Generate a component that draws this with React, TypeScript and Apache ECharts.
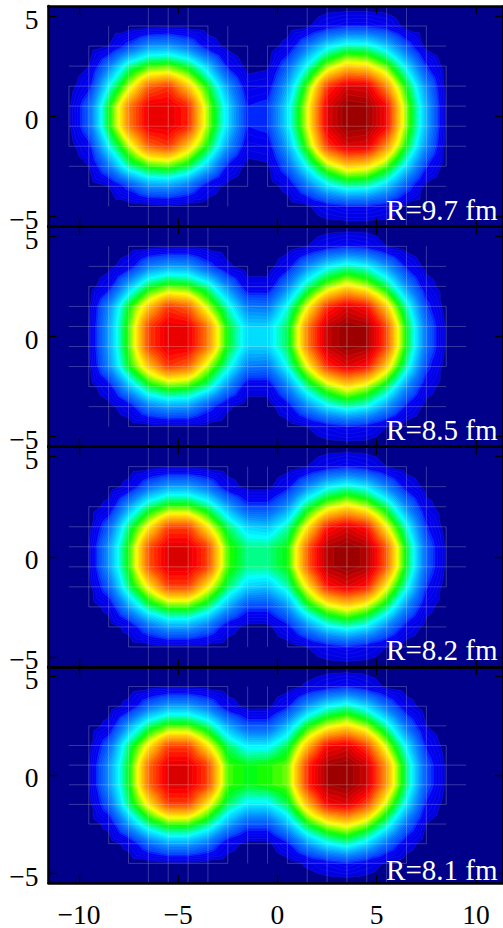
import React, { useEffect, useRef } from "react";
import * as echarts from "echarts";

const PANEL_LABELS = ["R=9.7 fm", "R=8.5 fm", "R=8.2 fm", "R=8.1 fm"];
const TICKS_X = [-10, -5, 0, 5, 10];
const TICKS_Y = [-5, 0, 5];
const LATTICE_X = [-10.5, -9.5, -8.5, -7.5, -6.5, -5.5, -4.5, -3.5, -2.5, -1.5, -0.5, 0.5, 1.5, 2.5, 3.5, 4.5, 5.5, 6.5, 7.5, 8.5, 9.5, 10.5];
const LATTICE_Y = [5.5, 4.5, 3.5, 2.5, 1.5, 0.5, -0.5, -1.5, -2.5, -3.5, -4.5, -5.5];

const DENSITY_97 = [
  [0,0,0,0,1,2,1,0,0,0,0,0,2,8,11,11,8,1,0,0,0,0],
  [0,0,3,14,25,26,20,7,1,0,0,5,21,35,42,41,32,16,1,0,0,0],
  [0,3,22,43,53,55,48,32,10,1,2,18,39,58,68,66,55,35,12,0,0,0],
  [0,9,38,60,79,83,69,50,26,6,7,28,55,83,92,91,75,50,24,1,0,0],
  [2,18,50,76,90,91,85,58,34,11,13,35,62,91,99,98,88,57,29,2,0,0],
  [2,18,50,76,90,91,85,58,34,11,13,35,62,91,99,98,88,57,29,2,0,0],
  [0,9,38,60,79,83,69,50,26,6,7,28,55,83,92,91,75,50,24,1,0,0],
  [0,3,22,43,53,55,48,32,10,1,2,18,39,58,68,66,55,35,12,0,0,0],
  [0,0,3,14,25,26,20,7,1,0,0,5,21,35,42,41,32,16,1,0,0,0],
  [0,0,0,0,1,2,1,0,0,0,0,0,2,8,11,11,8,1,0,0,0,0],
];
const DENSITY_85 = [
  [0,0,0,0,1,2,2,1,0,0,0,0,3,8,11,9,3,0,0,0,0,0],
  [0,0,1,7,22,27,26,15,4,0,0,8,24,36,42,38,26,10,1,0,0,0],
  [0,0,8,30,48,55,53,43,24,6,6,23,44,58,66,60,47,25,6,0,0,0],
  [0,2,24,50,69,83,79,60,41,22,21,39,63,84,91,87,68,42,14,0,0,0],
  [0,3,27,54,82,91,90,76,50,33,33,47,76,94,99,97,81,50,20,2,0,0],
  [0,3,27,54,82,91,90,76,50,33,33,47,76,94,99,97,81,50,20,2,0,0],
  [0,2,24,50,69,83,79,60,41,22,21,39,63,84,91,87,68,42,14,0,0,0],
  [0,0,8,30,48,55,53,43,24,6,6,23,44,58,66,60,47,25,6,0,0,0],
  [0,0,1,7,22,27,26,15,4,0,0,8,24,36,42,38,26,10,1,0,0,0],
  [0,0,0,0,1,2,2,1,0,0,0,0,3,8,11,9,3,0,0,0,0,0],
];
const DENSITY_82 = [
  [0,0,0,0,1,2,2,1,0,0,0,0,3,8,11,8,3,0,0,0,0,0],
  [0,0,0,5,19,27,27,20,6,1,1,9,24,36,41,36,23,8,1,0,0,0],
  [0,0,5,27,45,54,54,45,28,14,14,25,47,60,66,60,46,24,5,0,0,0],
  [0,1,18,45,65,82,82,65,46,33,31,42,65,86,91,86,64,40,12,0,0,0],
  [0,3,26,52,80,91,91,82,54,44,44,51,79,96,99,96,79,49,18,2,0,0],
  [0,3,26,52,80,91,91,82,54,44,44,51,79,96,99,96,79,49,18,2,0,0],
  [0,1,18,45,65,82,82,65,46,33,31,42,65,86,91,86,64,40,12,0,0,0],
  [0,0,5,27,45,54,54,45,28,14,14,25,47,60,66,60,46,24,5,0,0,0],
  [0,0,0,5,19,27,27,20,6,1,1,9,24,36,41,36,23,8,1,0,0,0],
  [0,0,0,0,1,2,2,1,0,0,0,0,3,8,11,8,3,0,0,0,0,0],
];
const DENSITY_81 = [
  [0,0,0,0,1,2,2,1,0,0,0,0,4,8,11,7,2,0,0,0,0,0],
  [0,0,0,5,19,27,27,20,6,1,1,10,26,37,42,34,20,6,0,0,0,0],
  [0,0,5,27,45,54,54,45,28,16,16,30,50,61,66,58,42,20,3,0,0,0],
  [0,1,18,45,65,82,82,65,46,36,36,47,70,88,91,82,60,36,10,0,0,0],
  [0,3,25,50,78,91,91,82,54,50,52,56,84,97,99,93,73,45,16,2,0,0],
  [0,3,25,50,78,91,91,82,54,50,52,56,84,97,99,93,73,45,16,2,0,0],
  [0,1,18,45,65,82,82,65,46,36,36,47,70,88,91,82,60,36,10,0,0,0],
  [0,0,5,27,45,54,54,45,28,16,16,30,50,61,66,58,42,20,3,0,0,0],
  [0,0,0,5,19,27,27,20,6,1,1,10,26,37,42,34,20,6,0,0,0,0],
  [0,0,0,0,1,2,2,1,0,0,0,0,4,8,11,7,2,0,0,0,0,0],
];
const PANELS = [DENSITY_97, DENSITY_85, DENSITY_82, DENSITY_81];
const LEVELS = [3,5,7,9,11,13,15,17,19,21,23,25,27,29,31,33,35,37,39,41,43,45,47,49,51,53,55,57,59,61,63,65,67,69,71,73,75,77,79,81,83,85,87,89,91,93,95,97,99];
const COLOR_VALUES = [0, 3, 9, 12, 22, 37, 50, 62, 75, 87, 100];
const COLOR_STOPS = [[0,0,139],[0,0,225],[0,0,245],[0,60,255],[0,128,255],[0,255,255],[0,255,0],[255,255,0],[255,128,0],[255,0,0],[128,0,0]];

const FONT = '"Liberation Serif"';
const GRID_LEFT = 48.5;
const GRID_WIDTH = 455.5;
const GRID_TOPS = [6, 226.3, 446.6, 666.9];
const GRID_HEIGHT = 220.4;

function colorAt(v: number) {
  let i = 0;
  while (i < COLOR_VALUES.length - 2 && v > COLOR_VALUES[i + 1]) i++;
  const t = (v - COLOR_VALUES[i]) / (COLOR_VALUES[i + 1] - COLOR_VALUES[i]);
  const c = COLOR_STOPS[i].map((a, k) => Math.round(a + (COLOR_STOPS[i + 1][k] - a) * t));
  return `rgb(${c[0]},${c[1]},${c[2]})`;
}

function padded(rows: number[][]) {
  const zero = LATTICE_X.map(() => 0);
  return [zero, ...rows, zero];
}

function clip(tri: number[][], level: number) {
  const out: number[][] = [];
  const cut: number[][] = [];
  for (let i = 0; i < 3; i++) {
    const a = tri[i];
    const b = tri[(i + 1) % 3];
    const ia = a[2] >= level;
    const ib = b[2] >= level;
    if (ia) out.push(a);
    if (ia !== ib) {
      const t = (level - a[2]) / (b[2] - a[2]);
      const q = [a[0] + (b[0] - a[0]) * t, a[1] + (b[1] - a[1]) * t, level];
      out.push(q);
      cut.push(q);
    }
  }
  return { out, cut };
}

function contourPolys(grid: number[][], level: number) {
  const polys: number[][][] = [];
  const cuts: number[][][] = [];
  for (let r = 0; r < LATTICE_Y.length - 1; r++) {
    for (let c = 0; c < LATTICE_X.length - 1; c++) {
      const p = [
        [LATTICE_X[c], LATTICE_Y[r], grid[r][c]],
        [LATTICE_X[c + 1], LATTICE_Y[r], grid[r][c + 1]],
        [LATTICE_X[c + 1], LATTICE_Y[r + 1], grid[r + 1][c + 1]],
        [LATTICE_X[c], LATTICE_Y[r + 1], grid[r + 1][c]],
      ];
      if (Math.max(p[0][2], p[1][2], p[2][2], p[3][2]) < level) continue;
      const m = [
        (p[0][0] + p[2][0]) / 2,
        (p[0][1] + p[2][1]) / 2,
        (p[0][2] + p[1][2] + p[2][2] + p[3][2]) / 4,
      ];
      for (let k = 0; k < 4; k++) {
        const { out, cut } = clip([p[k], p[(k + 1) % 4], m], level);
        if (out.length > 2) polys.push(out);
        if (cut.length === 2) cuts.push(cut);
      }
    }
  }
  return { polys, cuts };
}

function meshSegments(grid: number[][]) {
  const segs: number[][][] = [];
  for (let r = 0; r < LATTICE_Y.length; r++) {
    for (let c = 0; c < LATTICE_X.length; c++) {
      if (c + 1 < LATTICE_X.length && (grid[r][c] > 0 || grid[r][c + 1] > 0))
        segs.push([[LATTICE_X[c], LATTICE_Y[r]], [LATTICE_X[c + 1], LATTICE_Y[r]]]);
      if (r + 1 < LATTICE_Y.length && (grid[r][c] > 0 || grid[r + 1][c] > 0))
        segs.push([[LATTICE_X[c], LATTICE_Y[r]], [LATTICE_X[c], LATTICE_Y[r + 1]]]);
    }
  }
  return segs;
}

const minus = (v: number | string) => String(v).replace("-", "\u2212");

function buildOption() {
  const grid: any[] = [];
  const xAxis: any[] = [];
  const yAxis: any[] = [];
  const series: any[] = [];
  const line = { lineStyle: { color: "#000", width: 2.6 } };
  const tickStyle = { color: "#000", width: 1.4 };
  PANELS.forEach((rows, i) => {
    const g = padded(rows);
    grid.push({
      left: GRID_LEFT, top: GRID_TOPS[i], width: GRID_WIDTH, height: GRID_HEIGHT,
      show: true, backgroundColor: "#00008b", borderWidth: 0,
    });
    ["bottom", "top"].forEach((position, k) => {
      xAxis.push({
        type: "value", gridIndex: i, position, min: -11.53, max: 11.36,
        axisLine: { show: true, onZero: false, ...line },
        axisTick: { show: true, inside: true, length: 8, lineStyle: tickStyle, customValues: TICKS_X },
        splitLine: { show: false },
        axisLabel: {
          show: i === PANELS.length - 1 && k === 0,
          customValues: TICKS_X, formatter: minus, margin: 17,
          fontFamily: FONT, fontSize: 27.5, color: "#000",
        },
        z: 10,
      });
    });
    ["left", "right"].forEach((position, k) => {
      yAxis.push({
        type: "value", gridIndex: i, position, min: -5.5, max: 5.5,
        axisLine: { show: true, onZero: false, ...line },
        axisTick: { show: true, inside: true, length: 8, lineStyle: tickStyle, customValues: TICKS_Y },
        splitLine: { show: false },
        axisLabel: {
          show: k === 0,
          customValues: TICKS_Y, margin: 10,
          formatter: (v: number) => `{a|${minus(v)}}`,
          rich: { a: { fontFamily: FONT, fontSize: 27.5, color: "#000", padding: [6, 0, 0, 0] } },
        },
        z: 10,
      });
    });
    series.push({
      type: "custom", coordinateSystem: "cartesian2d", clip: true, silent: true,
      xAxisIndex: i * 2, yAxisIndex: i * 2, z: 2,
      encode: { x: 0, y: 1 },
      data: LEVELS.map((l) => [0, 0, l]),
      renderItem: (_p: any, api: any) => {
        const level = api.value(2);
        const { polys } = contourPolys(g, level);
        if (!polys.length) return null;
        let d = "";
        for (const poly of polys) {
          poly.forEach((pt, n) => {
            const c = api.coord([pt[0], pt[1]]);
            d += (n ? "L" : "M") + c[0].toFixed(2) + " " + c[1].toFixed(2);
          });
          d += "Z";
        }
        return { type: "path", shape: { pathData: d }, style: { fill: colorAt(level), stroke: null } };
      },
    });
    series.push({
      type: "custom", coordinateSystem: "cartesian2d", clip: true, silent: true,
      xAxisIndex: i * 2, yAxisIndex: i * 2, z: 3,
      encode: { x: 0, y: 1 },
      data: [[0, 0]],
      renderItem: (_p: any, api: any) => {
        let d = "";
        for (const s of meshSegments(g)) {
          const a = api.coord(s[0]);
          const b = api.coord(s[1]);
          d += `M${a[0].toFixed(2)} ${a[1].toFixed(2)}L${b[0].toFixed(2)} ${b[1].toFixed(2)}`;
        }
        return { type: "path", shape: { pathData: d }, style: { fill: null, stroke: "rgba(255,255,255,0.28)", lineWidth: 0.8 } };
      },
    });
    series.push({
      type: "custom", coordinateSystem: "cartesian2d", clip: true, silent: true,
      xAxisIndex: i * 2, yAxisIndex: i * 2, z: 3,
      encode: { x: 0, y: 1 },
      data: [[0, 0]],
      renderItem: (_p: any, api: any) => {
        let d = "";
        for (const level of LEVELS) {
          for (const s of contourPolys(g, level).cuts) {
            const a = api.coord(s[0]);
            const b = api.coord(s[1]);
            d += `M${a[0].toFixed(2)} ${a[1].toFixed(2)}L${b[0].toFixed(2)} ${b[1].toFixed(2)}`;
          }
        }
        return { type: "path", shape: { pathData: d }, style: { fill: null, stroke: "rgba(255,255,255,0.1)", lineWidth: 0.5 } };
      },
    });
  });
  return {
    animation: false,
    backgroundColor: "#fff",
    grid, xAxis, yAxis, series,
    graphic: PANEL_LABELS.map((text, i) => ({
      type: "text", z: 100, x: 497.5, y: GRID_TOPS[i] + 218,
      style: { text, fill: "#fff", font: `29px ${FONT}`, textAlign: "right", textVerticalAlign: "bottom" },
    })),
  };
}

export default function App() {
  const ref = useRef<HTMLDivElement>(null);
  useEffect(() => {
    document.body.style.margin = "0";
    const chart = echarts.init(ref.current!, undefined, { renderer: "svg" });
    chart.setOption(buildOption() as any);
    return () => chart.dispose();
  }, []);
  return <div ref={ref} style={{ position: "fixed", left: 0, top: 0, width: 503, height: 928 }} />;
}
